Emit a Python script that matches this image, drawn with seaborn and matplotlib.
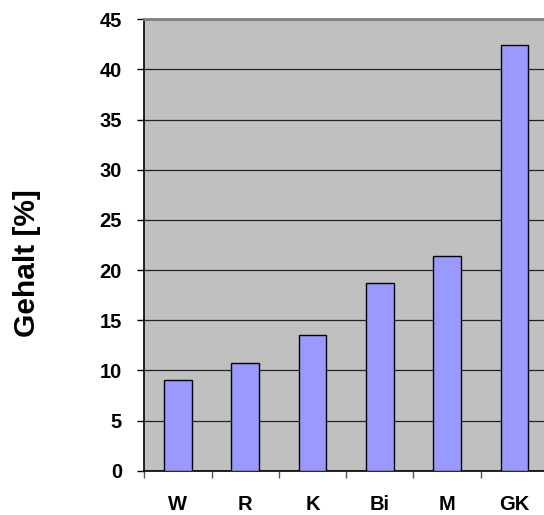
import numpy as np
import pandas as pd
import seaborn as sns
import matplotlib.pyplot as plt
from matplotlib.ticker import MultipleLocator, FixedLocator

# =============================================================================
# Data
# =============================================================================

categories = ["W", "R", "K", "Bi", "M", "GK"]
values = [9.05, 10.7, 13.5, 18.7, 21.4, 42.4]
y_label = "Gehalt [%]"

df = pd.DataFrame({"Kategorie": categories, "Gehalt": values})

# =============================================================================
# Plot
# =============================================================================

sns.set_style("white")
plt.rcParams["font.family"] = ["Liberation Sans", "DejaVu Sans"]
plt.rcParams["font.weight"] = "bold"
plt.rcParams["text.color"] = "black"
plt.rcParams["xtick.color"] = "black"
plt.rcParams["ytick.color"] = "black"
plt.rcParams["axes.labelcolor"] = "black"

fig = plt.figure(figsize=(5.44, 5.15), dpi=100)
ax = fig.add_axes([0.2653, 0.086, 0.742, 0.8765])
ax.set_facecolor("#C0C0C0")

sns.barplot(
    data=df,
    x="Kategorie",
    y="Gehalt",
    order=categories,
    color="#9999FF",
    saturation=1,
    width=0.41,
    edgecolor="black",
    linewidth=1.0,
    ax=ax,
    zorder=3,
)

ax.set_xlim(-0.5, 5.5)
ax.set_ylim(0, 45)
ax.yaxis.set_major_locator(MultipleLocator(5))

ax.grid(axis="y", color="#222222", linewidth=0.9, zorder=1)
ax.set_axisbelow(True)

# category boundary ticks
ax.xaxis.set_minor_locator(FixedLocator(np.arange(-0.5, 6.0, 1.0)))
ax.tick_params(axis="x", which="major", length=0, pad=17.5, labelsize=14.5)
ax.tick_params(axis="x", which="minor", length=5, width=1, color="#555555",
               direction="out", bottom=True)
ax.tick_params(axis="y", which="major", length=5, width=1, color="black",
               direction="out", left=True, pad=11, labelsize=14.5)

for lab in ax.get_xticklabels() + ax.get_yticklabels():
    lab.set_fontweight("bold")

ax.spines["left"].set_color("black")
ax.spines["left"].set_linewidth(1.2)
ax.spines["bottom"].set_color("black")
ax.spines["bottom"].set_linewidth(1.2)
ax.spines["top"].set_color("#808080")
ax.spines["top"].set_linewidth(2)
ax.spines["right"].set_visible(False)

ax.set_xlabel("")
ax.set_ylabel(y_label, fontsize=21.5, fontweight="bold")
ax.yaxis.set_label_coords(-0.255, 0.46)

fig.savefig("out.png", dpi=100)
